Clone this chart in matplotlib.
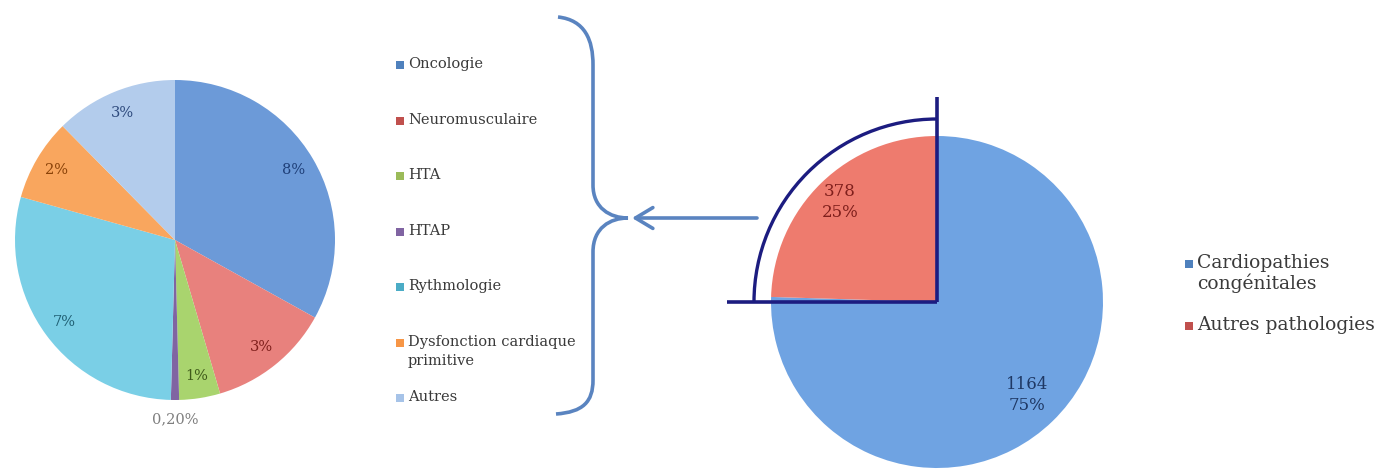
import numpy as np
import matplotlib
matplotlib.use("Agg")
import matplotlib.pyplot as plt
from matplotlib.path import Path
from matplotlib.patches import PathPatch, FancyArrowPatch, Arc

# Left pie: detail of "autres pathologies"
detail_labels = ["Oncologie", "Neuromusculaire", "HTA", "HTAP", "Rythmologie",
                 "Dysfonction cardiaque\nprimitive", "Autres"]
detail_values = [8.0, 3.0, 1.0, 0.2, 7.0, 2.0, 3.0]
detail_texts = ["8%", "3%", "1%", "0,20%", "7%", "2%", "3%"]
detail_colors = ["#6C9AD8", "#E8817D", "#A9D46E", "#8064A2", "#7ACFE6", "#F9A65E", "#B3CCEC"]
detail_txtcol = ["#1F3F78", "#7F1F1C", "#3F5A1A", "#7F7F7F", "#1F5F73", "#8A4208", "#2E4A7D"]
detail_legcol = ["#4F81BD", "#C0504D", "#9BBB59", "#8064A2", "#4BACC6", "#F79646", "#A6C3E8"]

# Right pie: overall split
main_labels = ["Cardiopathies\ncongénitales", "Autres pathologies"]
main_values = [1164, 378]
main_colors = ["#6FA3E2", "#EE7B6E"]
main_txtcol = ["#1F3864", "#7F1F1C"]
main_legcol = ["#4F81BD", "#C0504D"]

H = 470
SERIF = "DejaVu Serif"

fig = plt.figure(figsize=(13.9, 4.7), dpi=100)
ax = fig.add_axes([0, 0, 1, 1])

# left pie, centre/radius in pixel units (y up)
c1 = (175, H - 240)
r1 = 160
wedges1, _ = ax.pie(detail_values, colors=detail_colors, startangle=90,
                    counterclock=False, center=c1, radius=r1)
for w, t, col in zip(wedges1, detail_texts, detail_txtcol):
    ang = np.deg2rad((w.theta1 + w.theta2) / 2)
    d = 1.12 if t == "0,20%" else 0.86
    ax.text(c1[0] + d * r1 * np.cos(ang), c1[1] + d * r1 * np.sin(ang), t,
            ha="center", va="center", color=col, fontsize=10.5, family=SERIF)

# right pie
c2 = (937, H - 302)
r2 = 166
total = sum(main_values)
wedges2, _ = ax.pie(main_values, colors=main_colors, startangle=90,
                    counterclock=False, center=c2, radius=r2)
for w, v, col, d in zip(wedges2, main_values, main_txtcol, [0.78, 0.84]):
    ang = np.deg2rad((w.theta1 + w.theta2) / 2)
    ax.text(c2[0] + d * r2 * np.cos(ang), c2[1] + d * r2 * np.sin(ang),
            "%d\n%.0f%%" % (v, 100.0 * v / total), ha="center", va="center",
            color=col, fontsize=12, family=SERIF, linespacing=1.25)

# navy quarter-circle highlight
navy = "#1C1C80"
ax.plot([c2[0], c2[0]], [H - 97, c2[1]], color=navy, lw=2.6, solid_capstyle="butt")
ax.plot([727, c2[0]], [c2[1], c2[1]], color=navy, lw=2.6, solid_capstyle="butt")
ax.add_patch(Arc(c2, 2 * 183, 2 * 183, theta1=90, theta2=180, color=navy, lw=2.4))

# brace and arrow
steel = "#5A84C0"
verts = [(558, 17), (585, 20), (593, 40), (593, 65),
         (593, 185),
         (593, 208), (610, 218), (628, 218),
         (610, 218), (593, 228), (593, 252),
         (593, 380),
         (593, 402), (583, 412), (556, 414)]
codes = [Path.MOVETO, Path.CURVE4, Path.CURVE4, Path.CURVE4,
         Path.LINETO,
         Path.CURVE4, Path.CURVE4, Path.CURVE4,
         Path.CURVE4, Path.CURVE4, Path.CURVE4,
         Path.LINETO,
         Path.CURVE4, Path.CURVE4, Path.CURVE4]
verts = [(x, H - y) for x, y in verts]
ax.add_patch(PathPatch(Path(verts, codes), fill=False, edgecolor=steel, lw=2.6))
ax.add_patch(FancyArrowPatch((757, H - 218), (632, H - 218), arrowstyle="->,head_length=5,head_width=3",
                             color=steel, lw=2.6, mutation_scale=2.5, shrinkA=0, shrinkB=0))

# legends, drawn by hand so the square sits beside the first line
def draw_legend(x, ys, labels, colors, size, msize, lsp):
    for y, lab, col in zip(ys, labels, colors):
        ax.scatter([x], [H - y], marker="s", s=msize, color=col, linewidths=0)
        ax.text(x + 8, H - y + size * 0.72, lab, ha="left", va="top", color="#3A3A3A",
                fontsize=size, family=SERIF, linespacing=lsp)

leg1_y = [65 + 55.5 * i for i in range(len(detail_labels))]
draw_legend(400, leg1_y, detail_labels, detail_legcol, 10.5, 28, 1.45)
draw_legend(1189, [264, 326], main_labels, main_legcol, 13.5, 34, 1.05)

ax.set_xlim(0, 1390)
ax.set_ylim(0, H)
ax.set_aspect("auto")
ax.axis("off")

fig.savefig("out.png", dpi=100, facecolor="white")
